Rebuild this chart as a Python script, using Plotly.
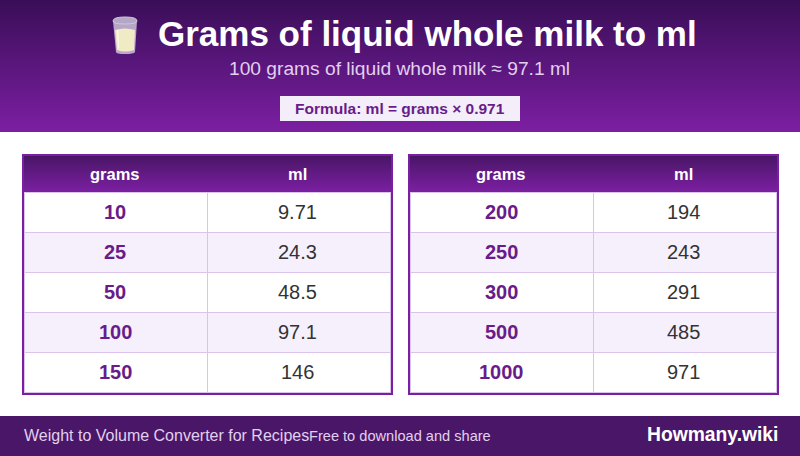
import plotly.graph_objects as go

TITLE = "Grams of liquid whole milk to ml"
SUBTITLE = "100 grams of liquid whole milk ≈ 97.1 ml"
FORMULA = "Formula: ml = grams × 0.971"
HEADERS = ["grams", "ml"]
LEFT_GRAMS = ["10", "25", "50", "100", "150"]
LEFT_ML = ["9.71", "24.3", "48.5", "97.1", "146"]
RIGHT_GRAMS = ["200", "250", "300", "500", "1000"]
RIGHT_ML = ["194", "243", "291", "485", "971"]
FOOT_LEFT = "Weight to Volume Converter for Recipes"
FOOT_MID = "Free to download and share"
FOOT_BRAND = "Howmany.wiki"

PURPLE = (123, 31, 162)
TOP = (58, 14, 88)
THEAD_TOP = (74, 22, 104)
DARK = "#4a1668"
TEXT_PURPLE = "#6a1b8a"
ROW_ALT = "#f5f0fb"
GRID = "#dbc3ec"
FONT = "Liberation Sans"

shapes, annotations = [], []


def rect(x0, y0, x1, y1, fill, line=None, lw=0):
    shapes.append(dict(type="rect", x0=x0, y0=y0, x1=x1, y1=y1, fillcolor=fill,
                       line=dict(color=line or fill, width=lw), layer="below"))


def gradient(x0, y0, x1, y1, c0, c1):
    n = y1 - y0
    for i in range(n):
        t = i / max(n - 1, 1)
        c = tuple(round(a + (b - a) * t) for a, b in zip(c0, c1))
        rect(x0, y0 + i, x1, y0 + i + 1, f"rgb{c}")


def text(x, y, s, size, color, bold=False, anchor="center"):
    annotations.append(dict(x=x, y=y, text=f"<b>{s}</b>" if bold else s, showarrow=False,
                            xanchor=anchor, yanchor="middle",
                            font=dict(family=FONT, size=size, color=color)))


def line(x0, y0, x1, y1, color, w=1):
    shapes.append(dict(type="line", x0=x0, y0=y0, x1=x1, y1=y1,
                       line=dict(color=color, width=w), layer="below"))


def path(d, fill, line_color=None, w=0):
    shapes.append(dict(type="path", path=d, fillcolor=fill,
                       line=dict(color=line_color or fill, width=w), layer="below"))


# header band
gradient(0, 0, 800, 132, TOP, PURPLE)
text(427, 33.5, TITLE, 35, "white", bold=True)
text(399.5, 68.5, SUBTITLE, 19.2, "#e1d0ee")
rect(280, 96, 520, 121, "#f3eefa")
text(400, 108, FORMULA, 15.5, TEXT_PURPLE, bold=True)

# milk glass icon
path("M 113 21 L 116 52 Q 116 54 125 54 Q 134 54 135 52 L 137 21 Z", "rgba(222,216,232,0.75)")
path("M 115 30 Q 125 27 135 30 L 134 50 Q 125 53 117 50 Z", "#f0ebc4")
path("M 113 21 Q 113 17 125 17 Q 137 17 137 21 Q 137 24 125 24 Q 113 24 113 21 Z", "#b5a8c4", "#cfc7d8", 1)
path("M 117 30 L 118 48 L 119 48 L 118.5 30 Z", "#fbfaf0")


def table(x0, grams, ml):
    x1 = x0 + 371
    mid = x0 + 185.5
    rect(x0, 154, x1, 395, "white")
    gradient(x0 + 2, 156, x1 - 2, 192, THEAD_TOP, PURPLE)
    cx = [x0 + 93, x0 + 275.5]
    for cxi, h in zip(cx, HEADERS):
        text(cxi, 173.5, h, 16.5, "white", bold=True)
    for i, (g, m) in enumerate(zip(grams, ml)):
        top = 192 + 40 * i
        if i % 2:
            rect(x0 + 2, top + 1, x1 - 2, top + 41, ROW_ALT)
        line(x0 + 2, top + 40.5, x1 - 2, top + 40.5, GRID)
        text(cx[0], top + 19.5, g, 20, TEXT_PURPLE, bold=True)
        text(cx[1], top + 19.5, m, 20, "#333333")
    line(mid, 192, mid, 393, GRID)
    line(x1 - 2.5, 192, x1 - 2.5, 393, GRID)
    line(x0 + 2.5, 192, x0 + 2.5, 393, GRID)
    line(x0 + 2, 192.5, x1 - 2, 192.5, GRID)
    shapes.append(dict(type="rect", x0=x0 + 1, y0=155, x1=x1 - 1, y1=394,
                       line=dict(color="rgb(123,31,162)", width=2), layer="below"))


table(22, LEFT_GRAMS, LEFT_ML)
table(408, RIGHT_GRAMS, RIGHT_ML)

# footer
rect(0, 416, 800, 456, DARK)
text(22, 435, FOOT_LEFT, 16, "#e1d0ee", anchor="left")
text(307, 435.5, FOOT_MID, 14.6, "#e1d0ee", anchor="left")
text(779.5, 434.5, FOOT_BRAND, 19.3, "white", bold=True, anchor="right")

fig = go.Figure(go.Scatter(x=[0], y=[0], mode="markers", marker=dict(opacity=0), hoverinfo="skip"))
fig.update_layout(
    width=800, height=456, margin=dict(l=0, r=0, t=0, b=0), showlegend=False,
    paper_bgcolor="white", plot_bgcolor="white", shapes=shapes, annotations=annotations,
    xaxis=dict(range=[0, 800], visible=False, fixedrange=True),
    yaxis=dict(range=[456, 0], visible=False, fixedrange=True),
)
fig.write_html("out.html", config={"displayModeBar": False},
               post_script="document.body.style.margin='0';document.documentElement.style.overflow='hidden';")
